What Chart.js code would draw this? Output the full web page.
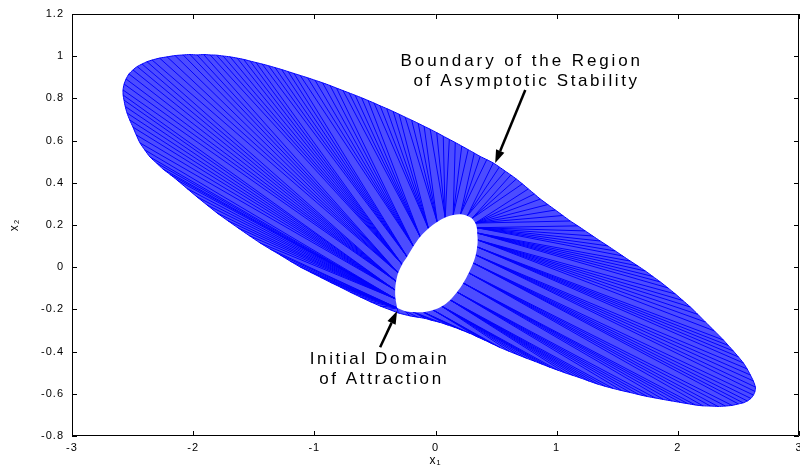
<!DOCTYPE html>
<html><head><meta charset="utf-8">
<script src="https://cdn.jsdelivr.net/npm/chart.js@4.4.1/dist/chart.umd.min.js"></script>
<style>html,body{margin:0;padding:0;background:#fff}#wrap{width:800px;height:468px}</style>
</head><body><div id="wrap"><canvas id="c" width="800" height="468"></canvas></div>
<script>
// ---- tick values / labels ----
const xTickValues = [-3, -2, -1, 0, 1, 2, 3];
const xTickLabels = ['-3', '-2', '-1', '0', '1', '2', '3'];
const yTickValues = [-0.8, -0.6, -0.4, -0.2, 0, 0.2, 0.4, 0.6, 0.8, 1, 1.2];
const yTickLabels = ['-0.8', '-0.6', '-0.4', '-0.2', '0', '0.2', '0.4', '0.6', '0.8', '1', '1.2'];

// ---- outer boundary points (trajectory end points) ----
const outerX = [-0.308,-0.457,-0.622,-0.787,-0.952,-1.117,-1.282,-1.448,-1.629,-1.803,
  -1.968,-2.133,-2.249,-2.356,-2.439,-2.497,-2.546,-2.571,-2.579,-2.554,
  -2.497,-2.422,-2.339,-2.215,-2.083,-1.968,-1.860,-1.753,-1.637,-1.530,
  -1.431,-1.324,-1.216,-1.117,-0.994,-0.870,-0.763,-0.663,-0.556,-0.457,
  -0.349,-0.250,-0.143,-0.044,0.064,0.163,0.270,0.369,0.477,0.576,
  0.667,0.766,0.865,0.989,1.112,1.236,1.360,1.484,1.608,1.732,
  1.856,1.980,2.104,2.228,2.376,2.458,2.541,2.599,2.640,2.624,
  2.574,2.500,2.393,2.269,2.145,2.021,1.881,1.749,1.608,1.468,
  1.338,1.197,1.071,0.947,0.823,0.683,0.534,0.410,0.286,0.163,
  0.039,-0.085,-0.209];
const outerY = [-0.217,-0.184,-0.141,-0.094,-0.047,0.001,0.058,0.115,0.186,0.257,
  0.333,0.413,0.465,0.522,0.589,0.664,0.731,0.792,0.840,0.892,
  0.935,0.963,0.982,0.997,1.006,1.006,1.006,1.001,0.991,0.977,
  0.963,0.946,0.927,0.909,0.886,0.861,0.837,0.815,0.790,0.765,
  0.738,0.711,0.682,0.654,0.621,0.591,0.557,0.525,0.494,0.455,
  0.418,0.371,0.323,0.271,0.219,0.172,0.124,0.077,0.029,-0.018,
  -0.070,-0.127,-0.189,-0.260,-0.345,-0.397,-0.454,-0.511,-0.568,-0.606,
  -0.634,-0.648,-0.658,-0.658,-0.653,-0.641,-0.627,-0.613,-0.594,-0.575,
  -0.554,-0.525,-0.501,-0.475,-0.447,-0.416,-0.381,-0.347,-0.314,-0.286,
  -0.262,-0.243,-0.231];
// further end points read between the ones above
const midX = [-0.383,-0.540,-0.705,-0.870,-1.035,-1.200,-1.365,-1.538,-1.716,-1.886,
  -2.051,-2.192,-2.303,-2.400,-2.470,-2.524,-2.561,-2.578,-2.570,-2.530,
  -2.462,-2.381,-2.277,-2.149,-2.026,-1.914,-1.807,-1.695,-1.584,-1.481,
  -1.378,-1.270,-1.167,-1.056,-0.932,-0.817,-0.713,-0.610,-0.507,-0.403,
  -0.300,-0.197,-0.094,0.010,0.114,0.217,0.320,0.423,0.527,0.622,
  0.717,0.816,0.927,1.051,1.174,1.298,1.422,1.546,1.670,1.794,
  1.918,2.042,2.166,2.302,2.417,2.500,2.572,2.623,2.637,2.603,
  2.539,2.447,2.331,2.207,2.083,1.951,1.815,1.679,1.538,1.403,
  1.268,1.134,1.009,0.885,0.753,0.609,0.472,0.348,0.225,0.101,
  -0.023,-0.147];
const midY = [-0.200,-0.163,-0.118,-0.071,-0.023,0.029,0.086,0.150,0.221,0.295,
  0.373,0.440,0.494,0.556,0.627,0.698,0.762,0.816,0.868,0.916,
  0.951,0.974,0.991,1.003,1.008,1.008,1.005,0.997,0.985,0.970,
  0.955,0.937,0.918,0.898,0.874,0.849,0.826,0.803,0.778,0.752,
  0.725,0.697,0.668,0.638,0.606,0.574,0.541,0.510,0.475,0.437,
  0.395,0.347,0.297,0.245,0.196,0.148,0.101,0.053,0.006,-0.044,
  -0.098,-0.158,-0.224,-0.302,-0.371,-0.425,-0.482,-0.539,-0.589,-0.622,
  -0.643,-0.655,-0.660,-0.657,-0.647,-0.634,-0.620,-0.604,-0.585,-0.565,
  -0.540,-0.513,-0.488,-0.461,-0.432,-0.399,-0.364,-0.331,-0.300,-0.274,
  -0.253,-0.237];

// ---- initial domain of attraction (inner ellipse) ----
const holeX = [-0.316,-0.330,-0.333,-0.325,-0.308,-0.275,-0.234,-0.182,-0.126,-0.058,
  0.014,0.080,0.146,0.206,0.262,0.301,0.328,0.341,0.344,0.348,
  0.344,0.332,0.311,0.274,0.229,0.178,0.121,0.052,-0.019,-0.100,
  -0.184,-0.255];
const holeY = [-0.193,-0.150,-0.108,-0.067,-0.027,0.013,0.049,0.099,0.144,0.183,
  0.214,0.235,0.247,0.251,0.243,0.231,0.209,0.187,0.162,0.129,
  0.096,0.058,0.020,-0.027,-0.075,-0.118,-0.155,-0.185,-0.203,-0.213,
  -0.212,-0.207];

// ---- start point (index into the inner ellipse) of each trajectory,
//      trajectories taken in boundary order: outer0, mid0, outer1, mid1, ...
const lineToHole = [
  0,0,0,0,0,0,0,0,0,0,0,0,0,0, 1,1,1,1,1,1,1,1,1,1,1,1,1,1,
  2,2,2,2,2,2,2,2, 3,3,3,3,3,3,3,3,
  4,4,4,4,4,4,4,4, 5,5,5,5,5,5,5,5,
  6,6,6,6,6,6, 7,7,7,7,7,7,
  8,8,8,8,8, 9,9,9,9,9,
  10,10,10,10, 11,11,11,11,
  12,12,12, 13,13,13,
  14,14,14, 15,15,15,
  16,16,16,16,16,16,16, 17,17,17,17,17,17,17,
  18,18,18,18,18,18, 19,19,19,19,19,19,
  20,20,20,20,20, 21,21,21,21,21,
  22,22,22,22,22, 23,23,23,23,23,
  24,24,24,24,24, 25,25,25,25,25,
  26,26,26,26,26,26,26, 27,27,27,27,27,27,27,
  28,28,28,28, 29,29,29,29,
  30,30,30, 31,31];

// ---- annotations ----
const noteText = ['Boundary of the Region', 'of Asymptotic Stability', 'Initial Domain', 'of Attraction'];

const FONT = "'Liberation Sans', Arial, Helvetica, sans-serif";
Chart.defaults.font.family = FONT;
Chart.defaults.font.size = 11;
Chart.defaults.color = '#000';

const notePos = [[0.700, 0.977], [0.741, 0.882], [-0.473, -0.435], [-0.457, -0.530]];
const noteSpacing = [2.9, 2.6, 2.6, 2.6];
const arrows = [[[0.741, 0.840], [0.493, 0.494]], [[-0.457, -0.379], [-0.317, -0.208]]];

// end points in boundary order
const ends = [];
outerX.forEach((v, k) => {
  ends.push({x: v, y: outerY[k]});
  if (k < midX.length) ends.push({x: midX[k], y: midY[k]});
});
const outerPts = ends.slice(); outerPts.push(ends[0]);
const holePts = holeX.map((v, i) => ({x: v, y: holeY[i]})); holePts.push(holePts[0]);

const datasets = [];
datasets.push({data: holePts, showLine: true, fill: 'shape', backgroundColor: '#ffffff',
  borderColor: 'rgba(0,0,0,0)', borderWidth: 0, pointRadius: 0, tension: 0.35, order: 0});
ends.forEach((e, j) => {
  const h = lineToHole[j];
  datasets.push({data: [e, {x: holeX[h], y: holeY[h]}], showLine: true,
    fill: false, borderColor: '#0000ff', borderWidth: 1, pointRadius: 0, order: 1});
});
datasets.push({data: outerPts, showLine: true, fill: 'shape', backgroundColor: 'rgba(0,0,255,0.70)',
  borderColor: '#0000ff', borderWidth: 1, pointRadius: 0, tension: 0.2, order: 2});

const framePlugin = {
  id: 'frame',
  beforeDraw(chart) { chart.ctx.letterSpacing = '1px'; },
  afterDraw(chart) {
    const {ctx, chartArea: a, scales: {x, y}} = chart;
    ctx.save();
    ctx.letterSpacing = '0px';
    ctx.strokeStyle = '#000'; ctx.lineWidth = 1;
    ctx.beginPath();
    ctx.rect(a.left + 0.5, a.top + 0.5, a.right - a.left - 1, a.bottom - a.top - 1);
    xTickValues.forEach(v => {
      const p = Math.round(x.getPixelForValue(v)) + 0.5;
      ctx.moveTo(p, a.bottom); ctx.lineTo(p, a.bottom - 5);
      ctx.moveTo(p, a.top); ctx.lineTo(p, a.top + 5);
    });
    yTickValues.forEach(v => {
      const p = Math.round(y.getPixelForValue(v)) + 0.5;
      ctx.moveTo(a.left, p); ctx.lineTo(a.left + 5, p);
      ctx.moveTo(a.right, p); ctx.lineTo(a.right - 5, p);
    });
    ctx.stroke();
    // arrows
    ctx.lineWidth = 2.5; ctx.fillStyle = '#000';
    arrows.forEach(([t, h]) => {
      const x0 = x.getPixelForValue(t[0]), y0 = y.getPixelForValue(t[1]);
      const x1 = x.getPixelForValue(h[0]), y1 = y.getPixelForValue(h[1]);
      const ang = Math.atan2(y1 - y0, x1 - x0), L = 13, W = 4.5;
      const bx = x1 - L * Math.cos(ang), by = y1 - L * Math.sin(ang);
      ctx.beginPath(); ctx.moveTo(x0, y0); ctx.lineTo(bx, by); ctx.stroke();
      ctx.beginPath(); ctx.moveTo(x1, y1);
      ctx.lineTo(bx + W * Math.sin(ang), by - W * Math.cos(ang));
      ctx.lineTo(bx - W * Math.sin(ang), by + W * Math.cos(ang));
      ctx.closePath(); ctx.fill();
    });
    // notes
    ctx.font = '17px ' + FONT;
    ctx.textAlign = 'center'; ctx.textBaseline = 'middle';
    noteText.forEach((t, i) => {
      ctx.letterSpacing = noteSpacing[i] + 'px';
      ctx.fillText(t, x.getPixelForValue(notePos[i][0]) + noteSpacing[i] / 2, y.getPixelForValue(notePos[i][1]));
    });
    ctx.restore();
  }
};

new Chart(document.getElementById('c'), {
  type: 'scatter',
  data: {datasets},
  plugins: [framePlugin],
  options: {
    responsive: false, animation: false, devicePixelRatio: 1,
    layout: {padding: {left: 0, right: 1, top: 14, bottom: 0}},
    plugins: {legend: {display: false}, tooltip: {enabled: false}},
    events: [],
    scales: {
      x: {
        type: 'linear', min: -3, max: 3,
        grid: {display: false, drawTicks: false}, border: {display: false},
        ticks: {stepSize: 1, autoSkip: false, maxRotation: 0, padding: 5,
          font: {size: 11},
          callback: (v) => { const i = xTickValues.findIndex(t => Math.abs(t - v) < 1e-6); return i < 0 ? '' : xTickLabels[i]; }},
        title: {display: true, text: 'x\u2081', font: {size: 12}, padding: {top: 0, bottom: 0}},
        afterFit: (s) => { s.height = 32; s.paddingLeft = 0; s.paddingRight = 0; }
      },
      y: {
        type: 'linear', min: -0.8, max: 1.2,
        grid: {display: false, drawTicks: false}, border: {display: false},
        ticks: {stepSize: 0.2, autoSkip: false, padding: 8, font: {size: 11},
          callback: (v) => { const i = yTickValues.findIndex(t => Math.abs(t - v) < 1e-6); return i < 0 ? '' : yTickLabels[i]; }},
        title: {display: true, text: 'x\u2082', font: {size: 12}, padding: {top: 7, bottom: 0}},
        afterFit: (s) => { s.width = 72; s.paddingTop = 0; s.paddingBottom = 0; }
      }
    }
  }
});
</script></body></html>
